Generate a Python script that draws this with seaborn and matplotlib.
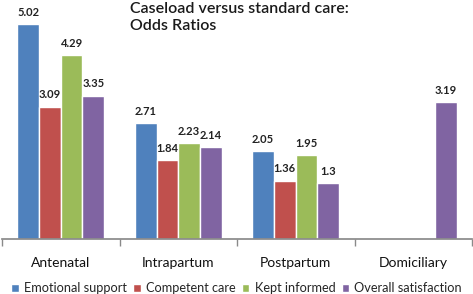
import matplotlib
matplotlib.use("Agg")

import matplotlib.pyplot as plt
import pandas as pd
import seaborn as sns
from matplotlib.patches import Patch

# ── Data ───────────────────────────────────────────────────────────────
stages = ["Antenatal", "Intrapartum", "Postpartum", "Domiciliary"]
measures = ["Emotional support", "Competent care", "Kept informed", "Overall satisfaction"]
emotional_support = [5.02, 2.71, 2.05, None]
competent_care = [3.09, 1.84, 1.36, None]
kept_informed = [4.29, 2.23, 1.95, None]
overall_satisfaction = [3.35, 2.14, 1.30, 3.19]

colors = ["#4F81BD", "#C0504D", "#9BBB59", "#8064A2"]

rows = []
for measure, vals in zip(measures, [emotional_support, competent_care,
                                    kept_informed, overall_satisfaction]):
    for stage, v in zip(stages, vals):
        rows.append({"stage": stage, "measure": measure, "odds": v})
df = pd.DataFrame(rows)

sns.set_theme(style="white")
plt.rcParams["font.family"] = ["Lato", "DejaVu Sans"]

fig = plt.figure(figsize=(4.73, 2.94), dpi=100)
ax = fig.add_axes([2 / 473, 55 / 294, 470 / 473, 239 / 294])

sns.barplot(data=df, x="stage", y="odds", hue="measure", order=stages,
            hue_order=measures, palette=colors, width=0.74, saturation=1,
            errorbar=None, legend=False, ax=ax)

# value labels
for container, vals in zip(ax.containers, [emotional_support, competent_care,
                                            kept_informed, overall_satisfaction]):
    for bar, v in zip(container, vals):
        if v is None:
            continue
        ax.annotate(f"{v:g}", (bar.get_x() + bar.get_width() / 2, bar.get_height()),
                    xytext=(0, 4.5), textcoords="offset points", ha="center",
                    va="bottom", fontsize=8, fontweight="bold", color="#222222")

ax.set_ylim(0, 5.58)
ax.set_xlim(-0.5, 3.5)
ax.set_xlabel("")
ax.set_ylabel("")
ax.set_yticks([])
for s in ["left", "right", "top"]:
    ax.spines[s].set_visible(False)
ax.spines["bottom"].set_color("#8a8a8a")
ax.set_xticks([-0.5, 0.5, 1.5, 2.5, 3.5], minor=True)
ax.tick_params(axis="x", which="minor", bottom=True, length=5, color="#8a8a8a")
ax.tick_params(axis="x", which="major", bottom=False, labelsize=10, pad=7,
               labelcolor="#111111")

fig.text(130 / 473, 1 - 2 / 294, "Caseload versus standard care:\nOdds Ratios",
         ha="left", va="top", fontsize=11.5, fontweight="semibold",
         color="#1a1a1a", linespacing=1.25)

handles = [Patch(facecolor=c, label=m) for c, m in zip(colors, measures)]
fig.legend(handles=handles, loc="lower center", bbox_to_anchor=(0.5, -0.04),
           ncol=4, frameon=False, fontsize=9.2, handlelength=0.6, handleheight=0.6,
           handletextpad=0.4, columnspacing=0.5)

fig.savefig("out.png", dpi=100)
